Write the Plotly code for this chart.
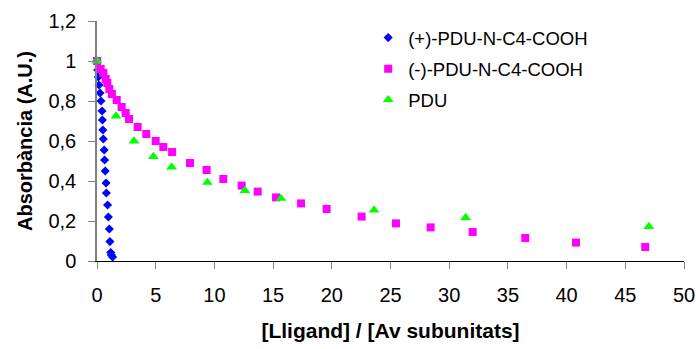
import plotly.graph_objects as go

# (+)-PDU-N-C4-COOH titration
plus_x = [0.0, 0.06, 0.11, 0.17, 0.26, 0.34, 0.43, 0.46, 0.50, 0.54, 0.61, 0.65, 0.70, 0.77, 0.80, 0.90, 0.97, 1.05, 1.10, 1.17, 1.22, 1.33]
plus_y = [1.0, 0.955, 0.92, 0.88, 0.84, 0.80, 0.75, 0.705, 0.655, 0.61, 0.555, 0.505, 0.45, 0.39, 0.34, 0.28, 0.22, 0.16, 0.097, 0.042, 0.03, 0.02]

# (-)-PDU-N-C4-COOH titration
minus_x = [0.0, 0.31, 0.54, 0.74, 0.88, 1.05, 1.27, 1.68, 2.1, 2.44, 2.73, 3.46, 4.2, 5.0, 5.65, 6.4,
           7.92, 9.34, 10.76, 12.32, 13.69, 15.25, 17.38, 19.56, 22.54, 25.47, 28.42, 32.0, 36.48, 40.8, 46.7]
minus_y = [1.0, 0.96, 0.94, 0.91, 0.89, 0.86, 0.835, 0.805, 0.77, 0.74, 0.71, 0.67, 0.635, 0.60, 0.57, 0.545,
           0.49, 0.455, 0.41, 0.377, 0.347, 0.318, 0.288, 0.26, 0.222, 0.188, 0.168, 0.145, 0.115, 0.092, 0.07]

# PDU titration
pdu_x = [0.0, 1.62, 3.15, 4.8, 6.36, 9.4, 12.6, 15.67, 23.6, 31.4, 47.0]
pdu_y = [1.0, 0.725, 0.60, 0.522, 0.47, 0.393, 0.352, 0.313, 0.255, 0.217, 0.172]

series_names = ["(+)-PDU-N-C4-COOH", "(-)-PDU-N-C4-COOH", "PDU"]

x_ticks = list(range(0, 51, 5))
y_ticks = [0, 0.2, 0.4, 0.6, 0.8, 1.0, 1.2]

FONT = "Liberation Sans, Arial, sans-serif"

fig = go.Figure()
fig.add_trace(go.Scatter(
    x=plus_x, y=plus_y, mode="markers", name=series_names[0], legendgroup="a",
    marker=dict(symbol="diamond", size=7, color="#0000FF"), cliponaxis=False))
fig.add_trace(go.Scatter(
    x=minus_x, y=minus_y, mode="markers", name=series_names[1], legendgroup="b",
    marker=dict(symbol="square", size=8, color="#FF00FF"), cliponaxis=False))
fig.add_trace(go.Scatter(
    x=pdu_x, y=pdu_y, mode="markers", name=series_names[2], legendgroup="c",
    marker=dict(symbol="triangle-up", size=9.5, color="#00FF00"), cliponaxis=False))

fig.update_layout(
    width=696, height=349,
    margin=dict(l=97, r=12, t=21, b=88),
    paper_bgcolor="white", plot_bgcolor="white",
    separators=", ",
    font=dict(family=FONT, size=20, color="black"),
    showlegend=True,
    legend=dict(x=0.462, y=1.008, xanchor="left", yanchor="top",
                font=dict(size=18.5, family=FONT), bgcolor="rgba(0,0,0,0)",
                tracegroupgap=4),
)

fig.update_xaxes(
    range=[0, 50], tickvals=x_ticks, showgrid=False, zeroline=False, automargin=False,
    showline=True, linecolor="black", linewidth=1,
    ticks="outside", ticklen=7, tickcolor="#808080", tickwidth=1,
    tickfont=dict(size=20), ticklabelstandoff=9,
    title=dict(text="<b>[Lligand] / [Av subunitats]</b>", font=dict(size=21), standoff=18),
)
fig.update_yaxes(
    range=[0, 1.2], tickvals=y_ticks, showgrid=False, zeroline=False, automargin=False,
    showline=True, linecolor="#808080", linewidth=1.5,
    ticks="outside", ticklen=7, tickcolor="#808080", tickwidth=1,
    tickfont=dict(size=20), ticklabelstandoff=8,
    title=dict(text="<b>Absorbància (A.U.)</b>", font=dict(size=20), standoff=10),
)

fig.write_html("out.html")
